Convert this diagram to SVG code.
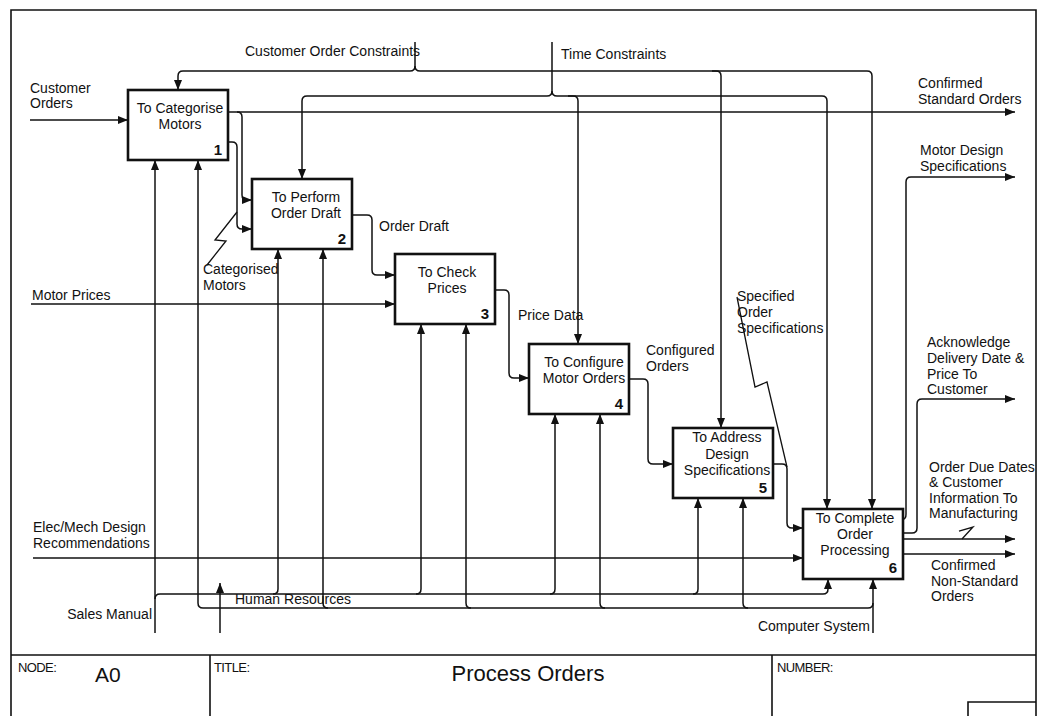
<svg xmlns="http://www.w3.org/2000/svg" width="1038" height="716" viewBox="0 0 1038 716">
<style>
text{font-family:"Liberation Sans",Arial,sans-serif;font-size:14px;fill:#111}
.box{fill:#fff;stroke:#111;stroke-width:2.6}
.c{fill:none;stroke:#111;stroke-width:1.5}
.ca{fill:none;stroke:#111;stroke-width:1.5;marker-end:url(#ah)}
.z{fill:none;stroke:#111;stroke-width:1.3}
.bt{text-anchor:middle}
.num{text-anchor:end;font-size:15px;font-weight:600}
.frame{fill:none;stroke:#111;stroke-width:1.6}
.tb{font-size:13px;letter-spacing:-0.6px}
</style>
<defs>
<marker id="ah" viewBox="0 0 10 8" refX="10" refY="4" markerWidth="10" markerHeight="8" markerUnits="userSpaceOnUse" orient="auto"><path d="M0,0 L10,4 L0,8 z" fill="#111"/></marker>
</defs>
<rect width="1038" height="716" fill="#fff"/>
<g id="frame">
<path class="frame" d="M11 716 V10 H1036 V716"/>
<path class="frame" d="M11 655 H1036 M210 655 V716 M772 655 V716 M968 716 V702 H1036"/>
<text class="tb" x="18" y="672">NODE:</text>
<text x="95" y="682" style="font-size:21px">A0</text>
<text class="tb" x="214" y="672">TITLE:</text>
<text x="528" y="681" style="font-size:22px;text-anchor:middle">Process Orders</text>
<text class="tb" x="777" y="672">NUMBER:</text>
</g>
<g id="connectors">
<path class="ca" d="M30 120 H128"/>
<path class="ca" d="M31 304 H395"/>
<path class="ca" d="M33 558 H803"/>
<path class="ca" d="M228 112 H1015"/>
<path class="ca" d="M237 112 Q242 112 242 117 V195 Q242 200 247 200 H252"/>
<path class="ca" d="M228 142 H232 Q237 142 237 147 V224 Q237 229 242 229 H252"/>
<path class="z" d="M237 212 L215 240 L226 241 L207 265"/>
<path class="ca" d="M352 215 H367 Q372 215 372 220 V270 Q372 275 377 275 H395"/>
<path class="ca" d="M495 290 H504 Q509 290 509 295 V373 Q509 378 514 378 H529"/>
<path class="ca" d="M629 379 H643 Q648 379 648 384 V459 Q648 464 653 464 H673"/>
<path class="ca" d="M773 464 H782 Q787 464 787 469 V523 Q787 528 792 528 H803"/>
<path class="z" d="M787 467 L767 382 L755 387 L737 297"/>
<path class="ca" d="M903 519 Q906 519 906 514 V182 Q906 177 911 177 H1015"/>
<path class="ca" d="M903 533 H912 Q917 533 917 528 V404 Q917 399 922 399 H1015"/>
<path class="ca" d="M903 539 H1015"/>
<path class="z" d="M959 531 L973 527 L962 539"/>
<path class="ca" d="M903 554 H1015"/>
<path class="ca" d="M415 42 V66 Q415 71 410 71 H183 Q178 71 178 76 V90"/>
<path class="c" d="M415 66 Q415 71 420 71 H867 Q872 71 872 76"/>
<path class="ca" d="M872 76 V509"/>
<path class="ca" d="M712 71 H716 Q721 71 721 76 V428"/>
<path class="ca" d="M552 42 V91 Q552 96 547 96 H307 Q302 96 302 101 V179"/>
<path class="c" d="M552 91 Q552 96 557 96 H822 Q827 96 827 101"/>
<path class="ca" d="M827 101 V509"/>
<path class="ca" d="M568 96 H573 Q578 96 578 101 V344"/>
<path class="ca" d="M155 633 V160"/>
<path class="c" d="M155 599 Q155 594 160 594 H823 Q828 594 828 589"/>
<path class="ca" d="M828 589 V579"/>
<path class="ca" d="M273 594 Q278 594 278 589 V249"/>
<path class="ca" d="M416 594 Q421 594 421 589 V324"/>
<path class="ca" d="M550 594 Q555 594 555 589 V414"/>
<path class="ca" d="M693 594 Q698 594 698 589 V498"/>
<path class="ca" d="M220 633 V583"/>
<path class="c" d="M203 608 H868 Q873 608 873 603"/>
<path class="ca" d="M203 608 Q198 608 198 603 V160"/>
<path class="ca" d="M328 608 Q323 608 323 603 V249"/>
<path class="ca" d="M471 608 Q466 608 466 603 V324"/>
<path class="ca" d="M605 608 Q600 608 600 603 V414"/>
<path class="ca" d="M748 608 Q743 608 743 603 V498"/>
<path class="ca" d="M873 633 V579"/>
</g>
<g id="labels">
<text x="30" y="93">Customer</text>
<text x="30" y="108">Orders</text>
<text x="32" y="300">Motor Prices</text>
<text x="33" y="532">Elec/Mech Design</text>
<text x="33" y="548">Recommendations</text>
<text x="245" y="56">Customer Order Constraints</text>
<text x="561" y="59">Time Constraints</text>
<text x="203" y="274">Categorised</text>
<text x="203" y="290">Motors</text>
<text x="379" y="231">Order Draft</text>
<text x="518" y="320">Price Data</text>
<text x="646" y="355">Configured</text>
<text x="646" y="371">Orders</text>
<text x="737" y="301">Specified</text>
<text x="737" y="317">Order</text>
<text x="737" y="333">Specifications</text>
<text x="918" y="88">Confirmed</text>
<text x="918" y="104">Standard Orders</text>
<text x="920" y="155">Motor Design</text>
<text x="920" y="171">Specifications</text>
<text x="927" y="347">Acknowledge</text>
<text x="927" y="363">Delivery Date &amp;</text>
<text x="927" y="379">Price To</text>
<text x="927" y="394">Customer</text>
<text x="929" y="472">Order Due Dates</text>
<text x="929" y="487">&amp; Customer</text>
<text x="929" y="503">Information To</text>
<text x="929" y="518">Manufacturing</text>
<text x="931" y="570">Confirmed</text>
<text x="931" y="586">Non-Standard</text>
<text x="931" y="601">Orders</text>
<text x="152" y="619" text-anchor="end">Sales Manual</text>
<text x="235" y="604">Human Resources</text>
<text x="870" y="631" text-anchor="end">Computer System</text>
</g>
<g id="node1">
<rect class="box" x="128" y="90" width="100" height="70"/>
<text class="bt" x="180" y="113">To Categorise</text>
<text class="bt" x="180" y="129">Motors</text>
<text class="num" x="222" y="155">1</text>
</g>
<g id="node2">
<rect class="box" x="252" y="179" width="100" height="70"/>
<text class="bt" x="306" y="202">To Perform</text>
<text class="bt" x="306" y="218">Order Draft</text>
<text class="num" x="346" y="244">2</text>
</g>
<g id="node3">
<rect class="box" x="395" y="254" width="100" height="70"/>
<text class="bt" x="447" y="277">To Check</text>
<text class="bt" x="447" y="293">Prices</text>
<text class="num" x="489" y="319">3</text>
</g>
<g id="node4">
<rect class="box" x="529" y="344" width="100" height="70"/>
<text class="bt" x="584" y="367">To Configure</text>
<text class="bt" x="584" y="383">Motor Orders</text>
<text class="num" x="623" y="409">4</text>
</g>
<g id="node5">
<rect class="box" x="673" y="428" width="100" height="70"/>
<text class="bt" x="727" y="442">To Address</text>
<text class="bt" x="727" y="459">Design</text>
<text class="bt" x="727" y="475">Specifications</text>
<text class="num" x="767" y="493">5</text>
</g>
<g id="node6">
<rect class="box" x="803" y="509" width="100" height="70"/>
<text class="bt" x="855" y="523">To Complete</text>
<text class="bt" x="855" y="539">Order</text>
<text class="bt" x="855" y="555">Processing</text>
<text class="num" x="897" y="573">6</text>
</g>
</svg>
